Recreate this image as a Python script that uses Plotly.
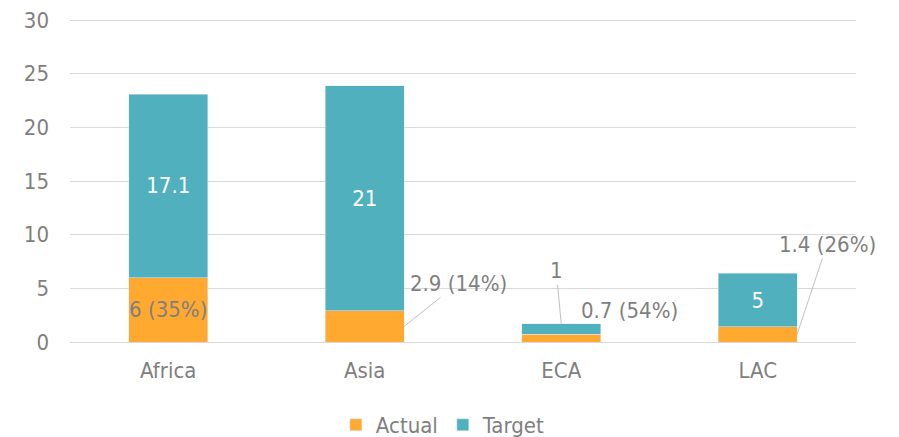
import plotly.graph_objects as go

regions = ["Africa", "Asia", "ECA", "LAC"]
actual = [6, 2.9, 0.7, 1.4]
target = [17.1, 21, 1, 5]
actual_pct = [35, 14, 54, 26]

ORANGE = "#FFA931"
TEAL = "#50B0BE"
GREY = "#7F7F7F"
FONT = "DejaVu Sans Condensed"
FS = 22
BAR_W = 0.4

actual_text = [f"{a:g} ({p}%)" for a, p in zip(actual, actual_pct)]
target_text = [f"{t:g}" for t in target]

fig = go.Figure()
fig.add_trace(go.Bar(
    x=regions, y=actual, name="Actual", marker_color=ORANGE,
    width=BAR_W, constraintext="none",
    text=[actual_text[0], "", "", ""], textposition="inside",
    insidetextanchor="middle", textangle=0,
    textfont=dict(color=GREY, size=FS, family=FONT),
))
fig.add_trace(go.Bar(
    x=regions, y=target, name="Target", marker_color=TEAL,
    width=BAR_W, constraintext="none",
    text=[target_text[0], target_text[1], "", target_text[3]],
    textposition="inside", insidetextanchor="middle", textangle=0,
    textfont=dict(color="white", size=FS, family=FONT),
))

# labels with leader lines
lbl = dict(showarrow=True, arrowhead=0, arrowwidth=1, arrowcolor="#BFBFBF",
           font=dict(color=GREY, size=FS, family=FONT), axref="pixel", ayref="pixel")
# Asia actual
fig.add_annotation(x=1 + BAR_W / 2, y=actual[1] / 2, text=actual_text[1],
                   ax=54, ay=-43, **lbl)
# ECA target
fig.add_annotation(x=2, y=actual[2] + target[2], text=target_text[2],
                   ax=-5, ay=-53, **lbl)
# ECA actual (no line)
fig.add_annotation(x=2, y=actual[2], text=actual_text[2], showarrow=False,
                   xshift=68, yshift=24,
                   font=dict(color=GREY, size=FS, family=FONT))
# LAC actual
fig.add_annotation(x=3 + BAR_W / 2, y=actual[3] / 2, text=actual_text[3],
                   ax=30, ay=-90, **lbl)

# page body adds an 8px offset, so margins are shifted and height padded
fig.update_layout(
    barmode="stack",
    width=899, height=455,
    margin=dict(l=62, r=51, t=10, b=121),
    paper_bgcolor="white", plot_bgcolor="white",
    font=dict(family=FONT, color=GREY, size=FS),
    showlegend=True,
    legend=dict(orientation="h", x=0.475, xanchor="center", y=-0.256,
                yanchor="middle", font=dict(size=FS, color=GREY),
                traceorder="normal", itemwidth=30),
    xaxis=dict(range=[-0.5, len(regions) - 0.5], showgrid=False,
               showline=False, ticks="", automargin=False,
               tickfont=dict(size=FS, color=GREY), ticklabelstandoff=13),
    yaxis=dict(range=[0, 30.2], tickvals=[0, 5, 10, 15, 20, 25, 30],
               showgrid=True, gridcolor="#D9D9D9",
               gridwidth=1, zeroline=True, zerolinecolor="#D9D9D9",
               zerolinewidth=1, tickfont=dict(size=FS, color=GREY),
               automargin=False, ticklabelstandoff=20,
               ticklabeloverflow="allow"),
)

fig.write_html("out.html")
